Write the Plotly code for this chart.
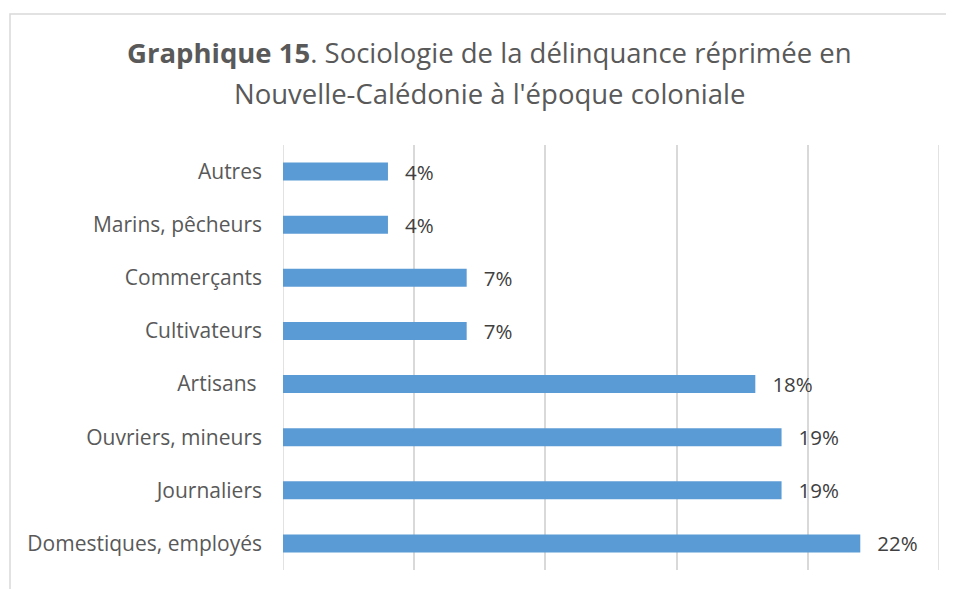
import plotly.graph_objects as go

categories = ["Domestiques, employés", "Journaliers", "Ouvriers, mineurs", "Artisans ",
              "Cultivateurs", "Commerçants", "Marins, pêcheurs", "Autres"]
values = [22, 19, 19, 18, 7, 7, 4, 4]
labels = [f"{v}%" for v in values]
grid_ticks = [0, 5, 10, 15, 20, 25]
title_line1 = "<b>Graphique 15</b>. Sociologie de la délinquance réprimée en"
title_line2 = "Nouvelle-Calédonie à l'époque coloniale"

# the page has an 8px body margin; compensate
OFF = 8
L, T = 283 - OFF, 145 - OFF
R = 954 + OFF - 939
B = 589 + OFF - 570
PW, PH = 954 - L - R, 589 - T - B

def px_x(x):
    return (x - OFF - L) / PW

def px_y(y):
    return 1 - (y - OFF - T) / PH

GRID = "#D9D9D9"

fig = go.Figure()
fig.add_trace(go.Bar(
    y=categories, x=values, orientation="h",
    marker=dict(color="#5B9BD5", line=dict(width=0)),
    width=0.34,
    text=[f"\u2009  {t}" for t in labels], textposition="outside", constraintext="none",
    textfont=dict(family="Open Sans", size=20.5, color="#404040"),
    cliponaxis=False,
))

shapes = [dict(type="rect", xref="paper", yref="paper",
               x0=px_x(10), x1=px_x(1000), y0=px_y(640), y1=px_y(14),
               line=dict(color=GRID, width=1.5), layer="below")]
# edge gridlines (plotly hides grid lines lying on the plot-area edges)
for g in (grid_ticks[0], grid_ticks[-1]):
    shapes.append(dict(type="line", xref="x", yref="paper", x0=g, x1=g, y0=0, y1=1,
                       line=dict(color=GRID, width=1.5), layer="below"))

fig.update_layout(
    width=954, height=589,
    margin=dict(l=L, r=R, t=T, b=B),
    plot_bgcolor="white", paper_bgcolor="white",
    showlegend=False,
    xaxis=dict(range=[grid_ticks[0], grid_ticks[-1]], tickvals=grid_ticks, showticklabels=False,
               showgrid=True, gridcolor=GRID, gridwidth=1.5, zeroline=False,
               showline=False, fixedrange=True),
    yaxis=dict(tickfont=dict(family="Open Sans", size=21, color="#595959"),
               ticks="", showgrid=False, zeroline=False, showline=False,
               automargin=False, ticklabelstandoff=20),
    annotations=[
        dict(text=title_line1, xref="paper", yref="paper", x=px_x(489), y=px_y(53),
             xanchor="center", yanchor="middle", showarrow=False,
             font=dict(family="Open Sans", size=27.5, color="#595959")),
        dict(text=title_line2, xref="paper", yref="paper", x=px_x(489), y=px_y(94),
             xanchor="center", yanchor="middle", showarrow=False,
             font=dict(family="Open Sans", size=27.5, color="#595959")),
    ],
    shapes=shapes,
)
fig.write_html("out.html")
